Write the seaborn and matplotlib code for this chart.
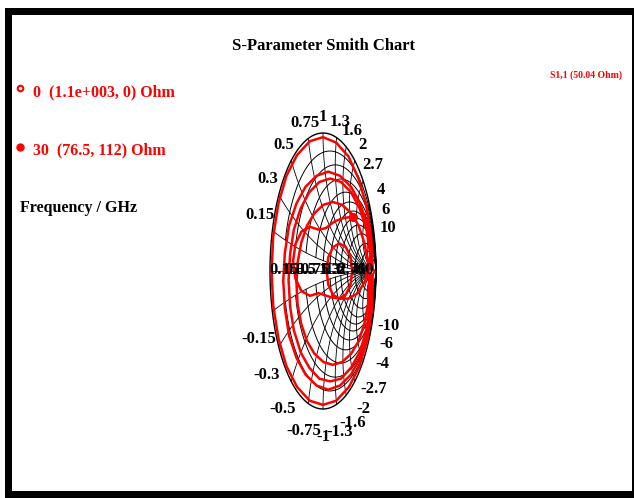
import numpy as np
import matplotlib
matplotlib.use('agg')
import matplotlib.pyplot as plt
from matplotlib.patches import Rectangle
import seaborn as sns

# grid values of the smith chart (normalised r and x)
grid_vals = [0.15, 0.3, 0.5, 0.75, 1, 1.3, 1.6, 2, 2.7, 4, 6, 10]
grid_labels = ['0.15', '0.3', '0.5', '0.75', '1', '1.3', '1.6', '2', '2.7', '4', '6', '10']

loop1_re = [0.91, 0.93, 0.84, 0.69, 0.49, 0.25, 0.00, -0.25, -0.49, -0.69, -0.84, -0.94, -0.97,
            -0.94, -0.84, -0.69, -0.49, -0.25, 0.00, 0.25, 0.48, 0.67, 0.82, 0.91, 0.94]
loop1_im = [0.00, -0.25, -0.49, -0.69, -0.84, -0.94, -0.97, -0.94, -0.84, -0.69, -0.49, -0.25, 0.00,
            0.25, 0.49, 0.69, 0.84, 0.94, 0.97, 0.93, 0.83, 0.67, 0.47, 0.24, 0.00]
loop2_re = [0.92, 0.84, 0.70, 0.53, 0.32, 0.10, -0.12, -0.33, -0.50, -0.64, -0.72, -0.75,
            -0.72, -0.64, -0.50, -0.33, -0.12, 0.10, 0.32, 0.53, 0.70, 0.84, 0.92]
loop2_im = [-0.27, -0.47, -0.63, -0.75, -0.83, -0.86, -0.83, -0.75, -0.63, -0.47, -0.27, -0.07,
            0.13, 0.33, 0.49, 0.61, 0.69, 0.72, 0.69, 0.61, 0.49, 0.33, 0.13]
loop3_re = [0.92, 0.89, 0.82, 0.69, 0.53, 0.34, 0.135, -0.07, -0.26, -0.42, -0.55, -0.62,
            -0.65, -0.62, -0.55, -0.42, -0.26, -0.07, 0.135, 0.34, 0.53, 0.69, 0.82, 0.89]
loop3_im = [-0.065, -0.26, -0.43, -0.59, -0.70, -0.78, -0.80, -0.78, -0.70, -0.59, -0.43, -0.26,
            -0.065, 0.125, 0.30, 0.455, 0.57, 0.645, 0.67, 0.645, 0.57, 0.455, 0.30, 0.125]
loop4_re = [0.87, 0.85, 0.78, 0.67, 0.53, 0.36, 0.185, 0.01, -0.16, -0.30, -0.41, -0.48,
            -0.50, -0.48, -0.41, -0.30, -0.16, 0.01, 0.185, 0.36, 0.53, 0.67, 0.78, 0.85]
loop4_im = [-0.09, -0.24, -0.385, -0.51, -0.60, -0.66, -0.68, -0.66, -0.60, -0.51, -0.385, -0.24,
            -0.09, 0.06, 0.205, 0.33, 0.42, 0.48, 0.50, 0.48, 0.42, 0.33, 0.205, 0.06]
tail_re = [0.80, 0.66, 0.48, 0.31, 0.19, 0.10, 0.07, 0.10, 0.19, 0.31, 0.43, 0.52, 0.55, 0.52,
           0.43, 0.31, 0.15, -0.085, -0.245, -0.405, -0.52, -0.565, -0.52, -0.405, -0.245,
           -0.085, 0.05, 0.22, 0.40, 0.557]
tail_im = [-0.07, -0.16, -0.20, -0.20, -0.173, -0.10, 0.00, 0.10, 0.173, 0.20, 0.173, 0.10, 0.00,
           -0.10, -0.17, -0.20, -0.19, -0.16, -0.18, -0.147, -0.055, 0.07, 0.195, 0.287, 0.32,
           0.30, 0.31, 0.36, 0.385, 0.392]

start_label = '0  (1.1e+003, 0) Ohm'
end_label = '30  (76.5, 112) Ohm'

trace_re = loop1_re + loop2_re + loop3_re + loop4_re + tail_re
trace_im = loop1_im + loop2_im + loop3_im + loop4_im + tail_im


def gamma(z):
    return (z - 1) / (z + 1)


sns.set_theme(style='white')
plt.rcParams['font.family'] = ['Liberation Serif', 'DejaVu Serif']

fig = plt.figure(figsize=(6.35, 4.98), dpi=100)

# background / frame, pixel coordinates
bg = fig.add_axes([0, 0, 1, 1])
bg.set_xlim(0, 635)
bg.set_ylim(498, 0)
bg.axis('off')
bg.add_patch(Rectangle((5, 8), 629, 490, fc='black', ec='none'))
bg.add_patch(Rectangle((12, 15), 620, 476, fc='white', ec='none'))

bg.text(323, 46, 'S-Parameter Smith Chart', ha='center', va='center',
        fontsize=12, fontweight='bold', color='black')
bg.plot([20], [88], 'o', ms=4, mfc='white', mec='red', mew=1.5)
bg.text(33, 92, start_label, ha='left', va='center', color='red', fontsize=11.5, fontweight='bold')
bg.plot([20], [147], 'o', ms=5, mfc='red', mec='red')
bg.text(33, 150, end_label, ha='left', va='center', color='red', fontsize=11.5, fontweight='bold')
bg.text(20, 208, 'Frequency / GHz', ha='left', va='center', color='black',
        fontsize=11.5, fontweight='bold')
bg.text(622, 75, 'S1,1 (50.04 Ohm)', ha='right', va='center', color='red',
        fontsize=7, fontweight='bold')

# smith chart axes (squashed: 53 px by 138 px per unit)
ax = fig.add_axes([270 / 635, (498 - 409) / 498, 106 / 635, 276 / 498])
ax.set_xlim(-1, 1)
ax.set_ylim(-1, 1)
ax.axis('off')

th = np.linspace(0, 2 * np.pi, 400)
ax.plot(np.cos(th), np.sin(th), color='black', lw=1.0, clip_on=False)
ax.plot([-1, 1], [0, 0], color='black', lw=0.5)

xs = np.geomspace(0.15, 1e4, 400)
rs = np.concatenate([[0], np.geomspace(1e-3, 1e4, 400)])
for v in grid_vals:
    for sgn in (1, -1):
        g = gamma(v + 1j * sgn * xs)
        ax.plot(g.real, g.imag, color='black', lw=0.7, clip_on=False)
        g = gamma(rs + 1j * sgn * v)
        ax.plot(g.real, g.imag, color='black', lw=0.6, clip_on=False)

lab_kw = dict(textcoords='offset points', ha='center', va='center',
              fontsize=12, fontweight='bold', color='black', annotation_clip=False)
for v, lab in zip(grid_vals, grid_labels):
    g = gamma(1j * v)
    ax.annotate(lab, (g.real, g.imag), xytext=(13 * g.real * 0.72, 16 * 0.72), **lab_kw)
    ax.annotate('-' + lab, (g.real, -g.imag), xytext=(14 * g.real * 0.72, -28 * 0.72), **lab_kw)
    gr = gamma(v)
    ax.annotate(lab, (gr.real, 0), xytext=(0, 1 * 0.72), **lab_kw)

sns.lineplot(x=trace_re, y=trace_im, sort=False, estimator=None, color='red', lw=1.8, ax=ax)
ax.plot([trace_re[0]], [trace_im[0]], 'o', ms=4, mfc='white', mec='red', mew=1.5)
ax.plot([trace_re[-1]], [trace_im[-1]], 'o', ms=5.5, mfc='red', mec='red')
ax.set_xlim(-1, 1)
ax.set_ylim(-1, 1)

fig.savefig('out.png', dpi=100)
